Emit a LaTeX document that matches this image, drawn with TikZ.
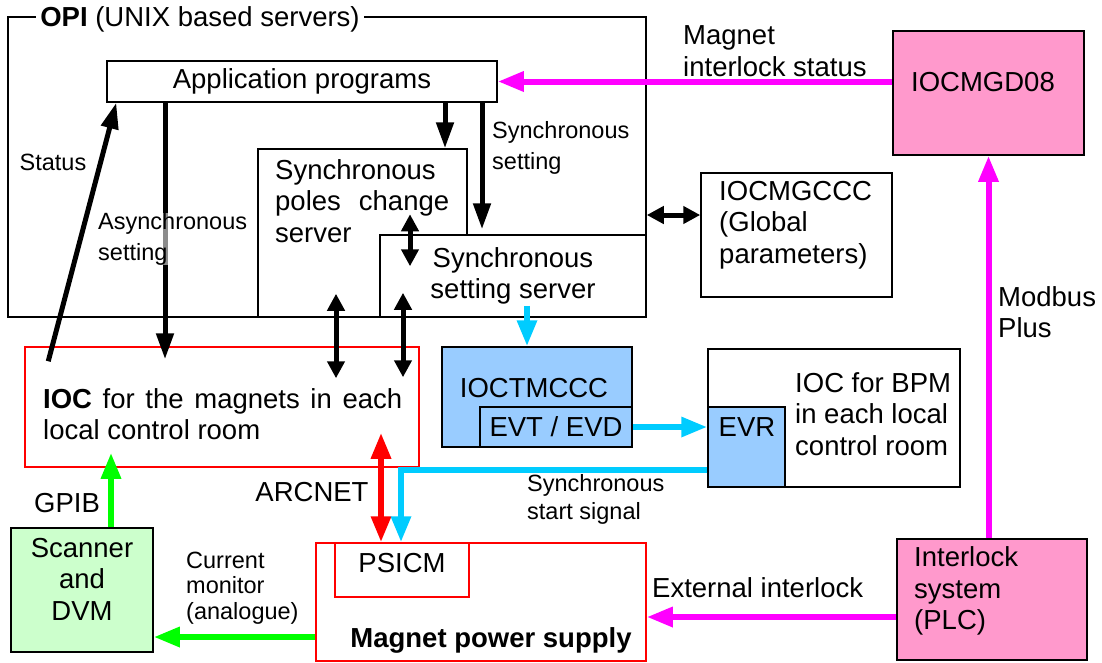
\documentclass[tikz,border=0pt]{standalone}
\usepackage{fontspec}
\setmainfont{Liberation Sans}
\usetikzlibrary{arrows.meta,calc,positioning}

\definecolor{magline}{HTML}{FF00FF}
\definecolor{pinkfill}{HTML}{FF99CC}
\definecolor{bluefill}{HTML}{99CCFF}
\definecolor{cyanline}{HTML}{00CCFF}
\definecolor{greenline}{HTML}{00FF00}
\definecolor{greenfill}{HTML}{CCFFCC}
\definecolor{redline}{HTML}{FF0000}

\tikzset{
  box/.style 2 args={draw=black, line width=1.5pt, fill=white, inner sep=0pt,
    minimum width=#1, minimum height=#2},
  txt/.style={font=\fontsize{27.5}{31.5}\selectfont, align=left, inner sep=0pt},
  small/.style={font=\fontsize{23.5}{31}\selectfont, align=left, inner sep=0pt},
  blkarrow/.style={line width=5pt, -{Triangle[length=26pt,width=17pt]}},
  dblarrow/.style={line width=5pt, {Triangle[length=17pt,width=17pt]}-{Triangle[length=17pt,width=17pt]}},
  colarrow/.style={line width=6pt, draw=#1, -{Triangle[length=26pt,width=19pt]}},
  coldbl/.style={line width=6pt, draw=#1, {Triangle[length=26pt,width=19pt]}-{Triangle[length=26pt,width=19pt]}}
}

\begin{document}
\begin{tikzpicture}[x=1pt,y=-1pt]
	\useasboundingbox (0,0) rectangle (1102,662);
	
	% OPI servers
	\node[box={638}{300}, fill=none] (opi) at (327,167) {};
	\node[txt, fill=white, inner sep=4pt] (opititle) at (200,19) {\textbf{OPI} (UNIX based servers)};
	\node[box={390}{41}, txt] (app) at (302,81.5) {Application programs};
	\node[box={209}{168}] (poles) at (362.5,233) {};
	\node[txt, anchor=west] (polestext) at (275,201) {Synchronous\\\makebox[174pt][s]{poles change}\\server};
	\node[box={266}{82}, txt, align=center] (sss) at (513,276) {Synchronous\\setting server};
	
	% right column
	\node[box={191}{124}] (gcc) at (796.5,235) {};
	\node[txt, anchor=west] (gcctext) at (719,225) {IOCMGCCC\\(Global\\parameters)};
	\node[box={191}{124}, fill=pinkfill] (gd08) at (988.5,93) {};
	\node[txt] (gd08text) at (983,82) {IOCMGD08};
	\node[box={190}{121}, fill=pinkfill] (plc) at (992,599.5) {};
	\node[txt, anchor=west] (plctext) at (914,591) {Interlock\\system\\(PLC)};
	
	% timing
	\node[box={190}{100}, fill=bluefill] (ioctm) at (537,397) {};
	\node[txt] (ioctmtext) at (534,388) {IOCTMCCC};
	\node[box={152}{40}, fill=bluefill, txt] (evt) at (556,427) {EVT / EVD};
	\node[box={252}{138}] (bpm) at (834,418) {};
	\node[box={77}{80}, fill=bluefill] (evr) at (746.5,447) {};
	\node[txt] (evrtext) at (747,427) {EVR};
	\node[txt, anchor=west] (bpmtext) at (795,414) {IOC for BPM\\in each local\\control room};
	
	% magnets
	\node[box={394}{120}, draw=redline, fill=none] (ioc) at (222,407) {};
	\node[txt, anchor=west] (ioctext) at (43,414) {\makebox[359pt][s]{\textbf{IOC} for the magnets in each}\\local control room};
	\node[box={330}{118}, draw=redline] (mps) at (481,602) {};
	\node[box={134}{54}, draw=redline] (psicm) at (402,570) {};
	\node[txt] (psicmtext) at (402,563) {PSICM};
	\node[txt] (mpstext) at (491,640) {\textbf{Magnet power supply}};
	\node[box={142}{124}, fill=greenfill] (scan) at (82,590) {};
	\node[txt, align=center] (scantext) at (82,579) {Scanner\\and\\DVM};
	
	% black connectors
	\draw[blkarrow] ($(ioc.north west)+(24,15)$) -- ($(app.south west)+(10,0)$);
	\node[small] (status) at (53,162) {Status};
	\draw[blkarrow] (app.south -| 165,0) -- ($(ioc.north -| 165,0)+(0,13)$);
	\node[small, anchor=west, fill=white, fill opacity=0.55, text opacity=1] (async) at (98,239) {Asynchronous\\setting};
	\draw[blkarrow] (app.south -| 445,0) -- (poles.north -| 445,0);
	\draw[blkarrow] (app.south -| 482,0) -- ($(sss.north -| 482,0)+(0,-5)$);
	\node[small, anchor=west] (syncset) at (492,148) {Synchronous\\setting};
	\draw[dblarrow] ($(sss.north -| 410,0)+(0,-20)$) -- ($(sss.north -| 410,0)+(0,32)$);
	\draw[dblarrow] ($(poles.south -| 336,0)+(0,-24)$) -- ($(ioc.north -| 336,0)+(0,32)$);
	\draw[dblarrow] ($(sss.south -| 403,0)+(0,-25)$) -- ($(ioc.north -| 403,0)+(0,31)$);
	\draw[dblarrow] (opi.east |- 0,215) -- (gcc.west |- 0,215);
	
	% coloured connectors
	\draw[colarrow=magline] (app.east -| gd08.west) -- (app.east);
	\node[txt, anchor=west] (magstatus) at (683,51) {Magnet\\interlock status};
	\draw[colarrow=magline] (plc.north -| gd08.south) -- (gd08.south);
	\node[txt, anchor=west] (modbus) at (998,312) {Modbus\\Plus};
	\draw[colarrow=magline] (plc.west |- 0,617) -- (mps.east |- 0,617);
	\node[txt, anchor=west] (extint) at (652,588) {External interlock};
	\draw[colarrow=greenline] (mps.west |- 0,637) -- (scan.east |- 0,637);
	\node[small, anchor=west, font=\fontsize{23.5}{25.5}\selectfont] (curmon) at (186,588) {Current\\monitor\\(analogue)};
	\draw[colarrow=greenline] (scan.north -| 111,0) -- ($(ioc.south -| 111,0)+(0,-15)$);
	\node[txt] (gpib) at (67,503) {GPIB};
	\draw[coldbl=redline] ($(ioc.south -| 381,0)+(0,-35)$) -- (psicm.north -| 381,0);
	\node[txt] (arcnet) at (312,492) {ARCNET};
	\draw[colarrow=cyanline] ($(sss.south -| 527,0)+(0,-12)$) -- (ioctm.north -| 527,0);
	\draw[colarrow=cyanline] (evt.east) -- (evr.west |- evt.east);
	\draw[colarrow=cyanline] (evr.west |- 0,470) -| (psicm.north -| 401,0);
	\node[small, anchor=west, font=\fontsize{23.5}{28}\selectfont] (startsig) at (527,499) {Synchronous\\start signal};
\end{tikzpicture}
\end{document}
